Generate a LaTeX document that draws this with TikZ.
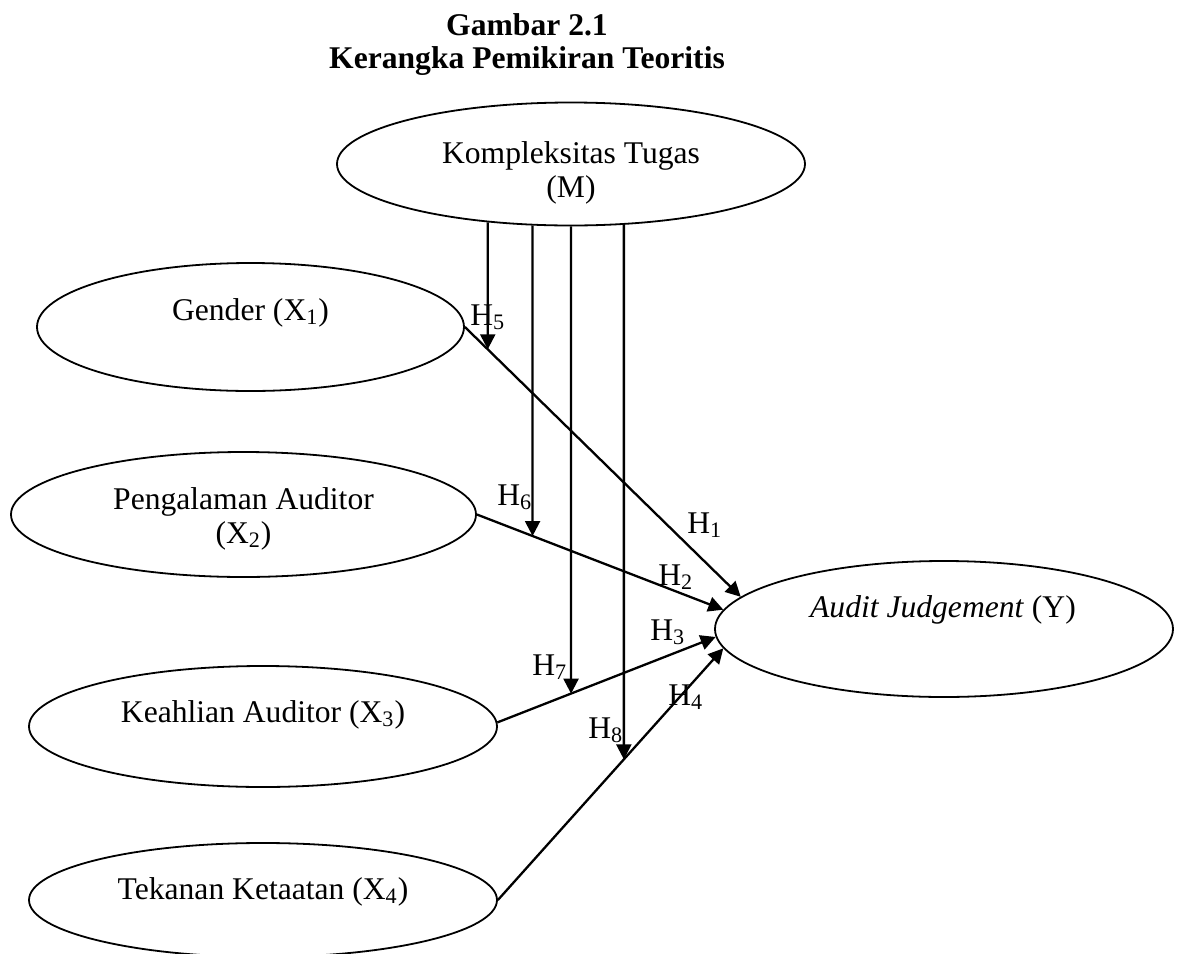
\documentclass[tikz,border=0pt]{standalone}
\usepackage{fontspec}
\setmainfont{Liberation Serif}
\usetikzlibrary{arrows.meta,shapes.geometric}
\begin{document}
\begin{tikzpicture}[x=0.5pt,y=-0.5pt,
  ell/.style={draw,ellipse,line width=0.9pt,inner sep=0pt},
  lbl/.style={font=\fontsize{15.8}{17}\selectfont, inner sep=0pt, anchor=base, align=center},
  hyp/.style={font=\fontsize{15.8}{17}\selectfont, inner sep=0pt, anchor=base west},
  arr/.style={-{Triangle[length=7.5pt,width=7.5pt]}, line width=1.15pt}]
\useasboundingbox (0,0) rectangle (1180,954);
\clip (0,0) rectangle (1180,954);

% title (anchor base = baseline of the last line)
\node[lbl, font=\fontsize{15.8}{16.5}\selectfont\bfseries] (title) at (527,68) {Gambar 2.1\\Kerangka Pemikiran Teoritis};

% ellipses
\node[ell, minimum width=234pt, minimum height=61.5pt] (M) at (571,164) {};
\node[ell, minimum width=213.5pt, minimum height=64pt] (g) at (250.5,327) {};
\node[ell, minimum width=232.5pt, minimum height=62.5pt] (p) at (243.5,514.5) {};
\node[ell, minimum width=234pt, minimum height=60.5pt] (k) at (263,726.5) {};
\node[ell, minimum width=234pt, minimum height=57pt] (t) at (263,900) {};
\node[ell, minimum width=229pt, minimum height=68pt] (y) at (944,629) {};

% ellipse texts
\node[lbl] (Mt) at (571,197) {Kompleksitas Tugas\\(M)};
\node[lbl] (gt) at (250.5,320) {Gender (X\textsubscript{1})};
\node[lbl] (pt) at (243.5,543) {Pengalaman Auditor\\(X\textsubscript{2})};
\node[lbl] (kt) at (263,722) {Keahlian Auditor (X\textsubscript{3})};
\node[lbl] (tt) at (263,899) {Tekanan Ketaatan (X\textsubscript{4})};
\node[lbl] (yt) at (943,617) {\textit{Audit Judgement} (Y)};

% direct effects
\coordinate (gs) at (g.east);   \coordinate (ge) at (y.171);
\coordinate (ps) at (p.east);   \coordinate (pe) at (y.175.1);
\coordinate (ks) at (k.1.5);    \coordinate (ke) at (y.182);
\coordinate (ts) at (t.east);   \coordinate (te) at (y.185);
\draw[arr] (gs) -- (ge);
\draw[arr] (ps) -- (pe);
\draw[arr] (ks) -- (ke);
\draw[arr] (ts) -- (te);

% moderation arrows
\coordinate (m5) at (M.215.1);  \coordinate (m5b) at (m5 |- t.south);
\coordinate (m6) at (M.238.4);  \coordinate (m6b) at (m6 |- t.south);
\coordinate (m7) at (M.270.9);  \coordinate (m7b) at (m7 |- t.south);
\coordinate (m8) at (M.311.15); \coordinate (m8b) at (m8 |- t.south);
\coordinate (i5) at (intersection of gs--ge and m5--m5b);
\coordinate (i6) at (intersection of ps--pe and m6--m6b);
\coordinate (i7) at (intersection of ks--ke and m7--m7b);
\coordinate (i8) at (intersection of ts--te and m8--m8b);
\draw[arr] (m5) -- (i5);
\draw[arr] (m6) -- (i6);
\draw[arr] (m7) -- (i7);
\draw[arr] (m8) -- (i8);

% hypothesis labels
\node[hyp] (h1) at (687,533) {H\textsubscript{1}};
\node[hyp] (h2) at (658,585) {H\textsubscript{2}};
\node[hyp] (h3) at (650,640) {H\textsubscript{3}};
\node[hyp] (h4) at (668,705) {H\textsubscript{4}};
\node[hyp] (h5) at (470,325) {H\textsubscript{5}};
\node[hyp] (h6) at (497,505) {H\textsubscript{6}};
\node[hyp] (h7) at (532,675) {H\textsubscript{7}};
\node[hyp] (h8) at (588,738) {H\textsubscript{8}};
\end{tikzpicture}
\end{document}
